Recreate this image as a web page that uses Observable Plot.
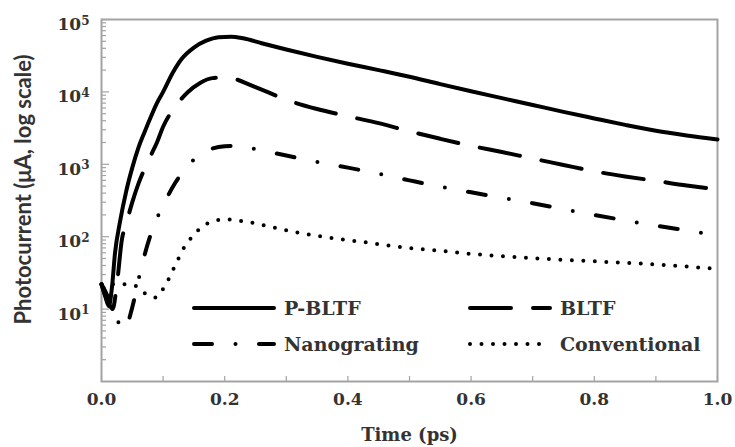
<!DOCTYPE html>
<html>
<head>
<meta charset="utf-8">
<script src="https://cdn.jsdelivr.net/npm/d3@7"></script>
<script src="https://cdn.jsdelivr.net/npm/@observablehq/plot@0.6"></script>
<style>
  html, body { margin: 0; padding: 0; background: #fff; }
  #chart { position: relative; width: 735px; height: 447px; }
  .legend-item { position: absolute; display: flex; align-items: center; height: 24px; }
  .legend-item span { font-family: "DejaVu Serif", serif; font-weight: bold; font-size: 19px; color: #333; margin-left: 6px; white-space: nowrap; }
</style>
</head>
<body>
<div id="chart"></div>
<script>
// Time axis samples (ps) and photocurrent (µA) for each device
const timePBLTF = [0, 0.006, 0.012, 0.017, 0.022, 0.03, 0.04, 0.05, 0.06, 0.07, 0.08, 0.09, 0.1, 0.115, 0.13, 0.15, 0.17, 0.19, 0.21, 0.23, 0.26, 0.3, 0.35, 0.4, 0.45, 0.5, 0.55, 0.6, 0.65, 0.7, 0.75, 0.8, 0.85, 0.9, 0.95, 1.0];
const currentPBLTF = [22, 15, 11, 20, 60, 160, 420, 900, 1700, 2800, 4500, 7000, 10000, 18000, 28500, 41000, 51000, 57000, 58000, 55000, 47000, 38500, 30500, 24500, 20000, 16200, 12800, 10200, 8200, 6600, 5300, 4300, 3500, 2900, 2500, 2200];

const timeBLTF = [0, 0.01, 0.018, 0.025, 0.033, 0.04, 0.05, 0.06, 0.07, 0.08, 0.09, 0.1, 0.12, 0.14, 0.16, 0.18, 0.2, 0.22, 0.24, 0.27, 0.3, 0.35, 0.4, 0.45, 0.5, 0.55, 0.6, 0.65, 0.7, 0.75, 0.8, 0.85, 0.9, 0.95, 1.0];
const currentBLTF = [22, 13, 10, 22, 90, 150, 300, 540, 870, 1320, 2000, 3300, 6300, 9900, 13300, 15500, 15800, 14800, 12600, 9900, 7800, 5800, 4600, 3700, 2850, 2250, 1800, 1480, 1200, 980, 800, 680, 590, 510, 450];

const timeNano = [0, 0.01, 0.02, 0.03, 0.035, 0.04, 0.047, 0.055, 0.062, 0.07, 0.084, 0.1, 0.12, 0.14, 0.16, 0.18, 0.2, 0.22, 0.25, 0.3, 0.35, 0.4, 0.45, 0.5, 0.55, 0.6, 0.65, 0.7, 0.75, 0.8, 0.85, 0.9, 0.95, 1.0];
const currentNano = [22, 15, 9, 6, 5.2, 5.5, 8.5, 16, 30, 56, 135, 270, 560, 950, 1350, 1650, 1780, 1800, 1620, 1320, 1080, 900, 740, 600, 490, 410, 345, 290, 240, 200, 168, 142, 122, 105];

const timeConv = [0, 0.02, 0.036, 0.055, 0.071, 0.088, 0.1, 0.109, 0.117, 0.125, 0.132, 0.143, 0.153, 0.167, 0.182, 0.205, 0.22, 0.242, 0.279, 0.318, 0.356, 0.393, 0.432, 0.469, 0.506, 0.545, 0.58, 0.66, 0.77, 0.875, 1.0];
const currentConv = [22, 22, 22, 21, 16.4, 14.5, 19, 26, 36, 50, 66, 90, 114, 143, 166, 173, 168, 157, 134, 114, 101, 91, 83, 75, 69, 64.5, 60, 53, 47, 42.5, 36];

const seriesNames = ["P-BLTF", "BLTF", "Nanograting", "Conventional"];

// Axis ticks
const xTicks = [0, 0.1, 0.2, 0.3, 0.4, 0.5, 0.6, 0.7, 0.8, 0.9, 1.0];
const xTickLabels = [0, 0.2, 0.4, 0.6, 0.8, 1.0];
const yMajorTicks = [10, 100, 1000, 10000, 100000];
const yMinorTicks = [1, 10, 100, 1000, 10000].flatMap(d => [2, 3, 4, 5, 6, 7, 8, 9].map(m => m * d));

const xLabel = "Time (ps)";
const yLabel = "Photocurrent (μA, log scale)";

// Line dash pattern for each series
const dashes = {
  "P-BLTF": null,
  "BLTF": "41,22",
  "Nanograting": "18,23.5,0,23.5",
  "Conventional": "0,11.5"
};

const columns = [
  [timePBLTF, currentPBLTF],
  [timeBLTF, currentBLTF],
  [timeNano, currentNano],
  [timeConv, currentConv]
];
const rows = seriesNames.flatMap((name, i) =>
  columns[i][0].map((t, j) => ({series: name, time: t, current: columns[i][1][j]})));

const grey = "#a3a3a3";
const ink = "#333";

const chart = Plot.plot({
  width: 735,
  height: 447,
  marginLeft: 101,
  marginRight: 18,
  marginTop: 19,
  marginBottom: 66,
  style: {fontFamily: "DejaVu Serif, serif", fontSize: "17px", color: ink, background: "#fff"},
  x: {domain: [0, 1], label: null},
  y: {type: "log", domain: [1, 1e5], label: null},
  marks: [
    Plot.axisY(yMinorTicks, {tickSize: -5, tickFormat: () => "", stroke: grey, strokeWidth: 1.2}),
    Plot.axisY(yMajorTicks, {tickSize: -8, tickFormat: () => "", stroke: grey, strokeWidth: 1.2}),
    Plot.axisY(yMajorTicks, {tickSize: 0, tickPadding: 12, tickFormat: d => String(Math.round(Math.log10(d))), fontWeight: "bold", dy: 5}),
    Plot.axisX(xTicks, {tickSize: -5, tickFormat: () => "", stroke: grey, strokeWidth: 1.2}),
    Plot.axisX(xTickLabels, {tickSize: 0, tickPadding: 11, tickFormat: d3.format(".1f"), fontWeight: "bold"}),
    Plot.frame({stroke: grey, strokeWidth: 2}),
    ...seriesNames.map(name => Plot.line(rows.filter(r => r.series === name), {
      x: "time", y: "current", curve: "monotone-x",
      stroke: "#000", strokeWidth: 4, strokeLinecap: "round", strokeLinejoin: "round",
      strokeDasharray: dashes[name]
    })),
    Plot.text([xLabel], {frameAnchor: "bottom", dy: 59, fontSize: 18, fontWeight: "bold", fill: ink}),
    Plot.text([yLabel], {frameAnchor: "left", textAnchor: "middle", dx: -78, dy: -11, rotate: -90, fontFamily: "Lato, sans-serif", fontSize: 22, fontWeight: "bold", fill: ink})
  ]
});

// Write the y tick labels as powers of ten: "10" with a raised exponent
d3.select(chart).selectAll("g[aria-label='y-axis tick label'] text").each(function() {
  const exponent = this.textContent;
  if (!exponent) return;
  const t = d3.select(this).text("");
  t.append("tspan").text("10");
  t.append("tspan").attr("font-size", 12).attr("dy", "-0.45em").text(exponent);
});

const root = document.getElementById("chart");
root.appendChild(chart);

// Legend drawn over the plot area
const legendLayout = [
  {name: "P-BLTF", left: 190, top: 296},
  {name: "BLTF", left: 466, top: 296},
  {name: "Nanograting", left: 190, top: 332},
  {name: "Conventional", left: 466, top: 332}
];
for (const item of legendLayout) {
  const div = d3.select(root).append("div")
    .attr("class", "legend-item")
    .style("left", item.left + "px")
    .style("top", item.top + "px");
  const svg = div.append("svg").attr("width", 88).attr("height", 24);
  svg.append("line")
    .attr("x1", 4).attr("x2", 84).attr("y1", 12).attr("y2", 12)
    .attr("stroke", "#000").attr("stroke-width", 4)
    .attr("stroke-linecap", "round")
    .attr("stroke-dasharray", dashes[item.name]);
  div.append("span").text(item.name);
}
</script>
</body>
</html>
